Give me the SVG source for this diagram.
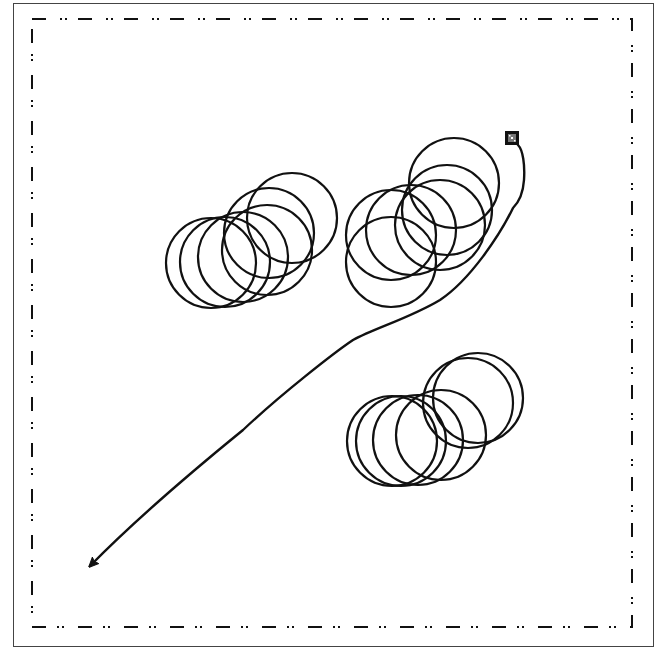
<svg xmlns="http://www.w3.org/2000/svg" width="658" height="648" viewBox="0 0 658 648">
<style>
.loop{fill:none;stroke:#111;stroke-width:2.2}
.path{fill:none;stroke:#111;stroke-width:2.4;stroke-linecap:round;stroke-linejoin:round}
.frame{fill:none;stroke:#444;stroke-width:1}
.border{fill:none;stroke:#111;stroke-width:2;stroke-dasharray:14 14 2 3 2 11}
</style>
<defs>
<marker id="arrow" viewBox="0 0 10 10" refX="8" refY="5" markerWidth="4.2" markerHeight="4.2" orient="auto" markerUnits="strokeWidth">
<path d="M0,0.5 L10,5 L0,9.5 L2,5 z" fill="#111" stroke="#111" stroke-width="1" stroke-linejoin="round"/>
</marker>
</defs>
<rect width="658" height="648" fill="#fff"/>
<rect class="frame" x="13.5" y="3.5" width="640" height="643"/>
<rect class="border" x="32" y="19" width="600" height="608"/>
<g id="cluster1">
<circle class="loop" cx="211" cy="263" r="45"/>
<circle class="loop" cx="225" cy="262" r="45"/>
<circle class="loop" cx="243" cy="257" r="45"/>
<circle class="loop" cx="267" cy="250" r="45"/>
<circle class="loop" cx="269" cy="233" r="45"/>
<circle class="loop" cx="292" cy="218" r="45"/>
</g>
<g id="cluster2">
<circle class="loop" cx="391" cy="262" r="45"/>
<circle class="loop" cx="391" cy="235" r="45"/>
<circle class="loop" cx="411" cy="230" r="45"/>
<circle class="loop" cx="440" cy="225" r="45"/>
<circle class="loop" cx="447" cy="210" r="45"/>
<circle class="loop" cx="454" cy="183" r="45"/>
</g>
<g id="cluster3">
<circle class="loop" cx="392" cy="441" r="45"/>
<circle class="loop" cx="401" cy="441" r="45"/>
<circle class="loop" cx="418" cy="440" r="45"/>
<circle class="loop" cx="441" cy="435" r="45"/>
<circle class="loop" cx="468" cy="403" r="45"/>
<circle class="loop" cx="478" cy="398" r="45"/>
</g>
<g id="start">
<rect x="505" y="131" width="14" height="14" fill="#111"/>
<rect x="508" y="134" width="8" height="8" fill="#777"/>
<rect x="511" y="137" width="2" height="2" fill="#fff"/>
<rect x="509" y="135" width="1.5" height="1.5" fill="#fff"/>
<rect x="514" y="140" width="1.5" height="1.5" fill="#fff"/>
</g>
<g id="connectors">
<path class="path" marker-end="url(#arrow)" d="M518,145 C523,150 525,165 524,180 C523,195 518,203 513,208 C500,235 470,280 440,300 C410,318 375,328 353,340 C335,352 280,395 243,430 C200,465 140,515 90,566"/>
</g>
</svg>
